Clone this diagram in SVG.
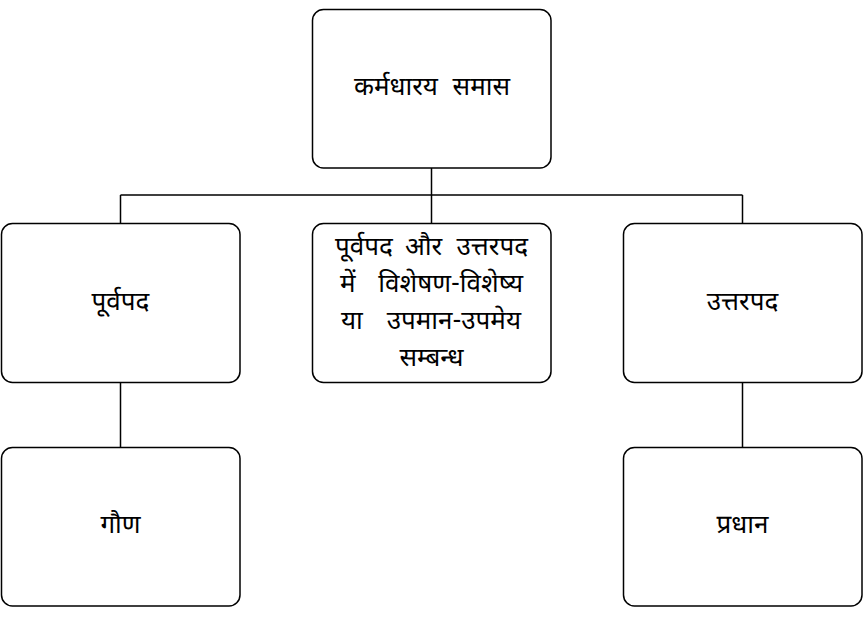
<svg xmlns="http://www.w3.org/2000/svg" width="863" height="644" viewBox="0 0 863 644">
<style>
.box{fill:#fff;stroke:#000;stroke-width:1.5}
text{font-family:"Noto Sans Devanagari","Noto Sans","Lohit Devanagari","FreeSans",sans-serif;font-size:26px;fill:#000;dominant-baseline:central}
.c{text-anchor:middle}
.e{text-anchor:end}
.edge{fill:none;stroke:#000;stroke-width:1.5}
</style>
<rect width="863" height="644" fill="#fff"/>
<g id="connectors">
<path class="edge" d="M431.5 168 V195 M120.5 195 H742.5 M120.5 195 V223 M742.5 195 V223 M431.5 195 V223 M120.5 383 V447 M742.5 383 V447"/>
</g>
<g id="karmadharaya">
<rect class="box" x="312.5" y="9.5" width="238.5" height="158.5" rx="11"/>
<text x="354" y="89">कर्मधारय</text>
<text class="e" x="510" y="89">समास</text>
</g>
<g id="purvapad">
<rect class="box" x="1.5" y="223.5" width="238.5" height="159" rx="11"/>
<text class="c" x="120.5" y="304">पूर्वपद</text>
</g>
<g id="sambandh">
<rect class="box" x="312.5" y="223.5" width="238.5" height="159" rx="11"/>
<text x="335" y="249">पूर्वपद</text>
<text class="c" x="423.5" y="249">और</text>
<text class="e" x="528" y="249">उत्तरपद</text>
<text x="340" y="286">में</text>
<text class="e" x="523" y="286">विशेषण-विशेष्य</text>
<text x="341" y="323">या</text>
<text class="e" x="521" y="323">उपमान-उपमेय</text>
<text class="c" x="431.5" y="360">सम्बन्ध</text>
</g>
<g id="uttarpad">
<rect class="box" x="623.5" y="223.5" width="238.5" height="159" rx="11"/>
<text class="c" x="742.5" y="304">उत्तरपद</text>
</g>
<g id="gaun">
<rect class="box" x="1.5" y="447.5" width="238.5" height="158.5" rx="11"/>
<text class="c" x="120.5" y="527">गौण</text>
</g>
<g id="pradhan">
<rect class="box" x="623.5" y="447.5" width="238.5" height="158.5" rx="11"/>
<text class="c" x="742.5" y="527">प्रधान</text>
</g>
</svg>
